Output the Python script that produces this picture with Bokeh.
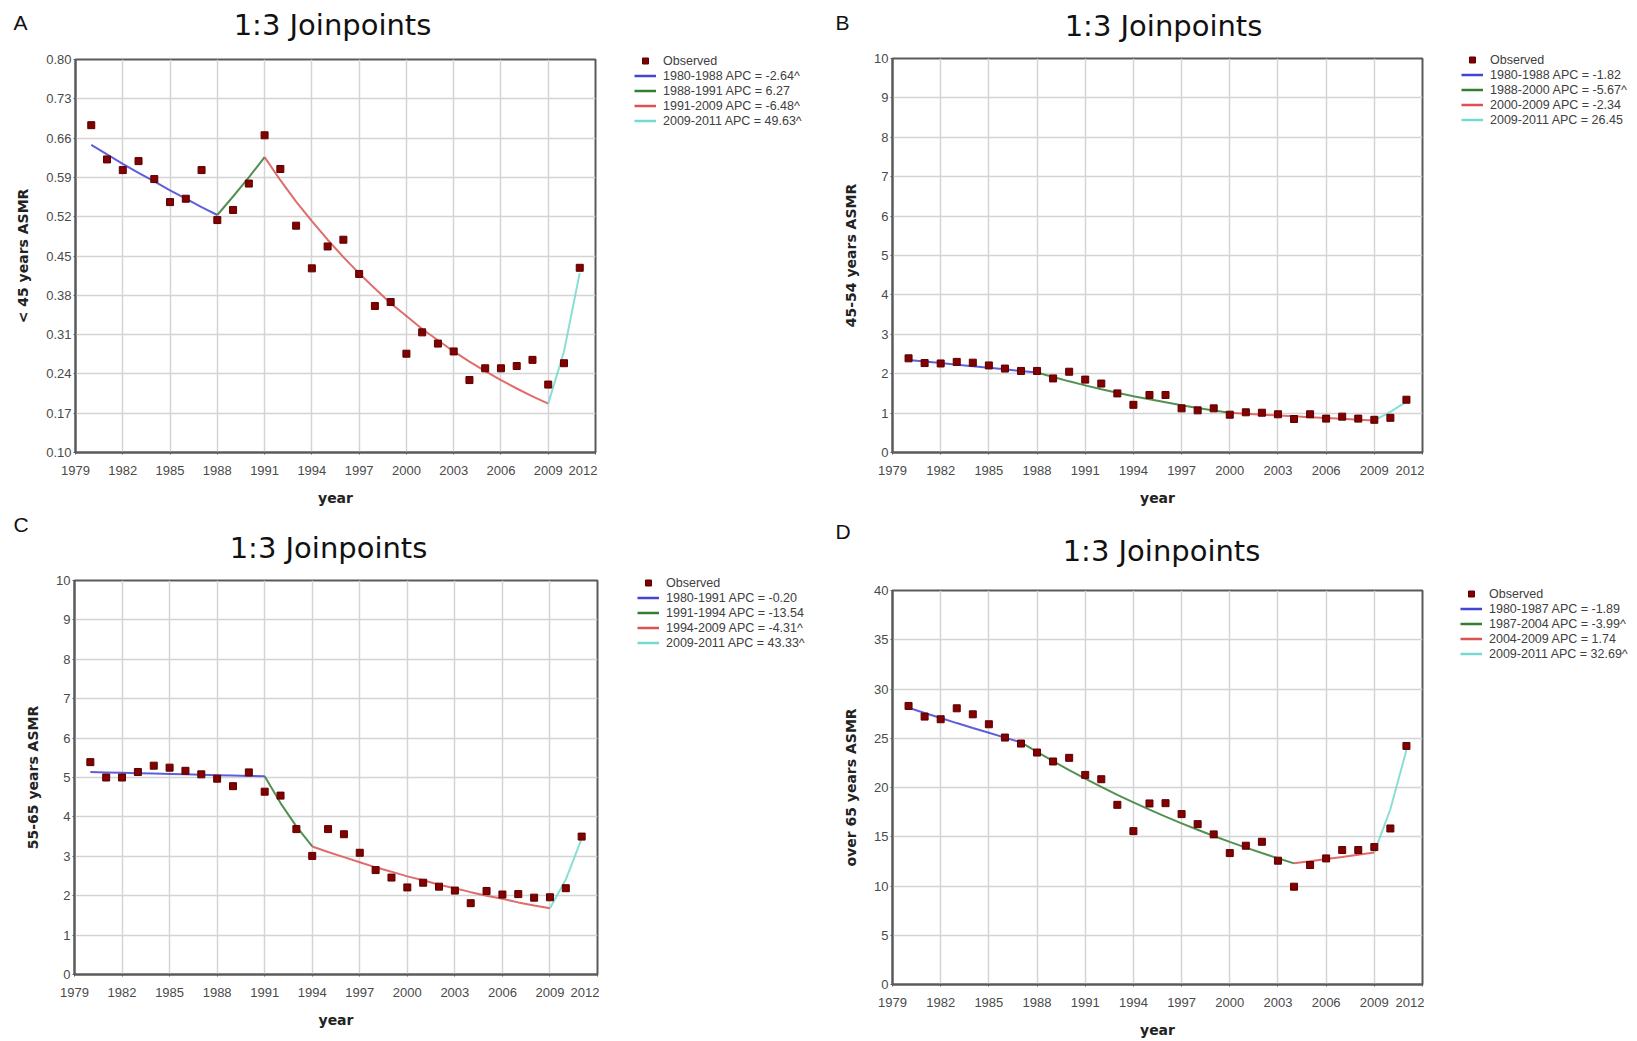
from bokeh.plotting import figure
from bokeh.layouts import column, row
from bokeh.models import (FixedTicker, Range1d, Label, Legend, LegendItem,
                          NumeralTickFormatter)
from bokeh.embed import file_html
from bokeh.resources import INLINE

# ---------------- data ----------------
years = list(range(1980, 2012))
x_ticks = [1979, 1982, 1985, 1988, 1991, 1994, 1997, 2000, 2003, 2006, 2009, 2012]
panel_title = "1:3 Joinpoints"

# Panel A: < 45 years
a_observed = [0.683, 0.622, 0.603, 0.619, 0.587, 0.546, 0.552, 0.603, 0.514, 0.532,
              0.579, 0.665, 0.605, 0.504, 0.428, 0.467, 0.479, 0.418, 0.361, 0.368,
              0.276, 0.314, 0.294, 0.280, 0.229, 0.250, 0.250, 0.254, 0.265, 0.221,
              0.259, 0.429]
a_segments = [(1980, 1988), (1988, 1991), (1991, 2009), (2009, 2011)]
a_fit_1980_1988 = [0.648, 0.631, 0.614, 0.598, 0.583, 0.567, 0.552, 0.537, 0.523]
a_fit_1988_1991 = [0.523, 0.556, 0.590, 0.626]
a_fit_1991_2009 = [0.626, 0.585, 0.547, 0.512, 0.479, 0.448, 0.419, 0.392, 0.366, 0.343,
                   0.320, 0.300, 0.280, 0.262, 0.245, 0.229, 0.214, 0.200, 0.187]
a_fit_2009_2011 = [0.187, 0.280, 0.420]
a_labels = ["1980-1988 APC = -2.64^", "1988-1991 APC = 6.27",
            "1991-2009 APC = -6.48^", "2009-2011 APC = 49.63^"]
a_yticks = [0.10, 0.17, 0.24, 0.31, 0.38, 0.45, 0.52, 0.59, 0.66, 0.73, 0.80]

# Panel B: 45-54 years
b_observed = [2.39, 2.27, 2.26, 2.30, 2.28, 2.21, 2.13, 2.07, 2.07, 1.88,
              2.05, 1.85, 1.75, 1.50, 1.21, 1.46, 1.46, 1.12, 1.07, 1.12,
              0.96, 1.02, 1.01, 0.97, 0.85, 0.97, 0.86, 0.91, 0.86, 0.83,
              0.88, 1.34]
b_segments = [(1980, 1988), (1988, 2000), (2000, 2009), (2009, 2011)]
b_fit_1980_1988 = [2.35, 2.31, 2.27, 2.23, 2.19, 2.15, 2.11, 2.07, 2.03]
b_fit_1988_2000 = [2.03, 1.915, 1.806, 1.704, 1.607, 1.516, 1.430, 1.349, 1.273, 1.200,
                   1.132, 1.068, 1.008]
b_fit_2000_2009 = [1.008, 0.984, 0.961, 0.939, 0.917, 0.895, 0.874, 0.854, 0.834, 0.814]
b_fit_2009_2011 = [0.814, 1.03, 1.29]
b_labels = ["1980-1988 APC = -1.82", "1988-2000 APC = -5.67^",
            "2000-2009 APC = -2.34", "2009-2011 APC = 26.45"]
b_yticks = [0, 1, 2, 3, 4, 5, 6, 7, 8, 9, 10]

# Panel C: 55-65 years
c_observed = [5.39, 5.00, 5.00, 5.14, 5.30, 5.25, 5.17, 5.08, 4.97, 4.78,
              5.13, 4.64, 4.54, 3.69, 3.01, 3.69, 3.56, 3.09, 2.65, 2.46,
              2.21, 2.33, 2.23, 2.13, 1.81, 2.12, 2.03, 2.04, 1.95, 1.96,
              2.19, 3.50]
c_segments = [(1980, 1991), (1991, 1994), (1994, 2009), (2009, 2011)]
c_fit_1980_1991 = [5.14, 5.13, 5.12, 5.11, 5.10, 5.09, 5.08, 5.07, 5.06, 5.05, 5.04, 5.03]
c_fit_1991_1994 = [5.03, 4.35, 3.76, 3.25]
c_fit_1994_2009 = [3.25, 3.11, 2.98, 2.85, 2.72, 2.61, 2.49, 2.39, 2.28, 2.19,
                   2.09, 2.00, 1.92, 1.83, 1.75, 1.68]
c_fit_2009_2011 = [1.68, 2.41, 3.45]
c_labels = ["1980-1991 APC = -0.20", "1991-1994 APC = -13.54",
            "1994-2009 APC = -4.31^", "2009-2011 APC = 43.33^"]
c_yticks = [0, 1, 2, 3, 4, 5, 6, 7, 8, 9, 10]

# Panel D: over 65 years
d_observed = [28.28, 27.20, 26.93, 28.04, 27.43, 26.42, 25.07, 24.46, 23.55, 22.64,
              23.01, 21.28, 20.84, 18.24, 15.57, 18.38, 18.41, 17.30, 16.28, 15.24,
              13.34, 14.09, 14.49, 12.57, 9.93, 12.13, 12.80, 13.65, 13.65, 13.95,
              15.84, 24.22]
d_segments = [(1980, 1987), (1987, 2004), (2004, 2009), (2009, 2011)]
d_fit_1980_1987 = [28.10, 27.57, 27.05, 26.54, 26.04, 25.55, 25.06, 24.59]
d_fit_1987_2004 = [24.59, 23.61, 22.67, 21.76, 20.89, 20.06, 19.26, 18.49, 17.75, 17.04,
                   16.36, 15.71, 15.08, 14.48, 13.90, 13.35, 12.81, 12.30]
d_fit_2004_2009 = [12.30, 12.51, 12.73, 12.95, 13.18, 13.41]
d_fit_2009_2011 = [13.41, 17.79, 23.80]
d_labels = ["1980-1987 APC = -1.89", "1987-2004 APC = -3.99^",
            "2004-2009 APC = 1.74", "2009-2011 APC = 32.69^"]
d_yticks = [0, 5, 10, 15, 20, 25, 30, 35, 40]

# ---------------- styling ----------------
line_colors = ["#4343d4", "#347e34", "#da5252", "#74d9cf"]
OBS_FILL = "#820000"
OBS_LINE = "#5a0000"
FRAME = "#5a5a5a"


def no_align(p):
    try:
        p.frame_align = False
    except Exception:
        pass
    return p


def make_header(letter, W, H, letter_x, letter_y, title_x, title_y):
    h = figure(width=W, height=H, x_range=Range1d(0, W), y_range=Range1d(H, 0),
               output_backend="svg", toolbar_location=None,
               x_axis_type=None, y_axis_type=None,
               min_border_left=0, min_border_right=0,
               min_border_top=0, min_border_bottom=0)
    no_align(h)
    h.outline_line_color = None
    h.background_fill_color = "white"
    h.border_fill_color = "white"
    h.add_layout(Label(x=letter_x, y=letter_y, text=letter,
                       text_font="Liberation Sans", text_font_size="21px",
                       text_color="#111111", text_align="left",
                       text_baseline="middle"))
    h.add_layout(Label(x=title_x, y=title_y, text=panel_title,
                       text_font="DejaVu Sans", text_font_size="29px",
                       text_color="#111111", text_align="center",
                       text_baseline="middle"))
    return h


def make_panel(ylabel, observed, segments, fits, yticks, yfmt,
               W, H, bl, bt, bb):
    ylo, yhi = yticks[0], yticks[-1]
    p = figure(width=W, height=H, x_range=Range1d(1979, 2012), y_range=Range1d(ylo, yhi),
               output_backend="svg", toolbar_location=None,
               min_border_left=bl, min_border_right=2,
               min_border_top=bt, min_border_bottom=bb)
    no_align(p)
    p.background_fill_color = "white"
    p.border_fill_color = "white"
    p.outline_line_color = FRAME
    p.outline_line_width = 2

    p.xaxis.ticker = FixedTicker(ticks=x_ticks)
    p.yaxis.ticker = FixedTicker(ticks=yticks)
    if yfmt:
        p.yaxis.formatter = NumeralTickFormatter(format=yfmt)
    p.grid.grid_line_color = "#d4d4d4"
    p.grid.grid_line_width = 1.5

    p.axis.axis_line_color = FRAME
    p.axis.axis_line_width = 2
    p.axis.minor_tick_line_color = None
    p.axis.major_tick_in = 0
    p.axis.major_tick_out = 2
    p.axis.major_tick_line_color = FRAME
    p.axis.major_label_text_font = "Liberation Sans"
    p.axis.major_label_text_font_size = "13px"
    p.axis.major_label_text_color = "#4a4a4a"
    p.xaxis.major_label_standoff = 11
    p.yaxis.major_label_standoff = 2

    p.xaxis.axis_label = "year"
    p.yaxis.axis_label = ylabel
    p.axis.axis_label_text_font = "DejaVu Sans"
    p.axis.axis_label_text_font_style = "bold"
    p.axis.axis_label_text_font_size = "14px"
    p.axis.axis_label_text_color = "#222222"
    p.xaxis.axis_label_standoff = 12
    p.yaxis.axis_label_standoff = 12

    for (s, e), vals, col in zip(segments, fits, line_colors):
        p.line(list(range(s, e + 1)), vals, line_color=col, line_width=2, line_alpha=0.85)
    p.scatter(years, observed, marker="square", size=7,
              fill_color=OBS_FILL, line_color=OBS_LINE)
    return p


def make_legend_fig(observed, segments, fits, labels, W, H, bl, bt):
    # a strip beside the plot; its own copies of the series stay outside its (unit) ranges,
    # so only the legend built from them is visible
    f = figure(width=W, height=H, x_range=Range1d(0, 1), y_range=Range1d(0, 1),
               output_backend="svg", toolbar_location=None,
               x_axis_type=None, y_axis_type=None,
               min_border_left=bl, min_border_right=0,
               min_border_top=bt, min_border_bottom=0)
    no_align(f)
    f.outline_line_color = None
    f.background_fill_color = "white"
    f.border_fill_color = "white"
    obs_r = f.scatter(years, observed, marker="square", size=5,
                      fill_color=OBS_FILL, line_color=OBS_LINE)
    items = [LegendItem(label="Observed", renderers=[obs_r])]
    for (s, e), vals, lab, col in zip(segments, fits, labels, line_colors):
        r = f.line(list(range(s, e + 1)), vals, line_color=col, line_width=2.5)
        items.append(LegendItem(label=lab, renderers=[r]))
    legend = Legend(items=items, location="top_left",
                    margin=0, padding=0, spacing=0,
                    glyph_width=22, glyph_height=15, label_height=15,
                    label_standoff=7,
                    label_text_font="Liberation Sans", label_text_font_size="12.5px",
                    label_text_color="#404040",
                    border_line_color=None, background_fill_alpha=0)
    f.add_layout(legend)
    return f


# headers
hA = make_header("A", 818, 46, 13, 22, 332, 24)
hB = make_header("B", 819, 46, 17, 22, 345, 25)
hC = make_header("C", 818, 59, 13, 15, 328, 38)
hD = make_header("D", 819, 59, 17, 22, 343, 41)

a_fits = [a_fit_1980_1988, a_fit_1988_1991, a_fit_1991_2009, a_fit_2009_2011]
b_fits = [b_fit_1980_1988, b_fit_1988_2000, b_fit_2000_2009, b_fit_2009_2011]
c_fits = [c_fit_1980_1991, c_fit_1991_1994, c_fit_1994_2009, c_fit_2009_2011]
d_fits = [d_fit_1980_1987, d_fit_1987_2004, d_fit_2004_2009, d_fit_2009_2011]

pA = make_panel("< 45 years ASMR", a_observed, a_segments, a_fits, a_yticks, "0.00",
                597, 463, 75, 13, 57)
lA = make_legend_fig(a_observed, a_segments, a_fits, a_labels, 221, 463, 37, 7)
pB = make_panel("45-54 years ASMR", b_observed, b_segments, b_fits, b_yticks, None,
                606, 463, 74, 12, 57)
lB = make_legend_fig(b_observed, b_segments, b_fits, b_labels, 213, 463, 37, 6)
pC = make_panel("55-65 years ASMR", c_observed, c_segments, c_fits, c_yticks, None,
                599, 473, 74, 12, 67)
lC = make_legend_fig(c_observed, c_segments, c_fits, c_labels, 219, 473, 38, 7)
pD = make_panel("over 65 years ASMR", d_observed, d_segments, d_fits, d_yticks, None,
                606, 473, 74, 22, 57)
lD = make_legend_fig(d_observed, d_segments, d_fits, d_labels, 213, 473, 36, 18)

layout = column(
    row(column(hA, row(pA, lA)), column(hB, row(pB, lB))),
    row(column(hC, row(pC, lC)), column(hD, row(pD, lD))),
)
open("out.html", "w").write(file_html(layout, INLINE))
